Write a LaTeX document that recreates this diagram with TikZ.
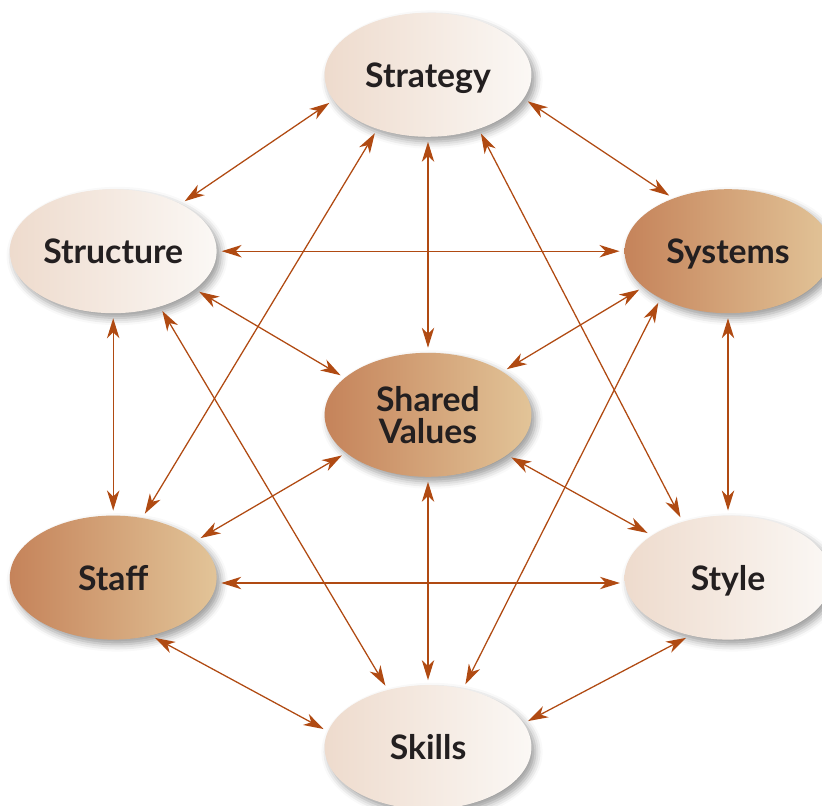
\documentclass[tikz,border=0pt]{standalone}
\usepackage{fontspec}
\setmainfont{Lato}
\usetikzlibrary{arrows.meta, positioning, shapes.geometric, shadows.blur}
\definecolor{rust}{RGB}{176,74,18}
\definecolor{sandL}{RGB}{238,219,205}
\definecolor{sandR}{RGB}{251,248,245}
\definecolor{tanL}{RGB}{197,131,90}
\definecolor{tanR}{RGB}{226,196,152}
\definecolor{ink}{RGB}{35,31,32}

\begin{document}
\begin{tikzpicture}[
        oval/.style={ellipse, minimum width=5.17cm, minimum height=3.1cm, inner sep=0pt,
                     align=center, text=ink, text depth=0pt, font=\fontsize{24}{22.5}\selectfont\bfseries,
                     blur shadow={shadow xshift=0.1cm, shadow yshift=-0.12cm,
                                  shadow blur radius=0.18cm, shadow opacity=40}},
        light/.style={oval, left color=sandL, right color=sandR},
        dark/.style={oval, left color=tanL, right color=tanR},
        link/.style={{Stealth[length=5mm, width=3.1mm, inset=1.5mm]}-{Stealth[length=5mm, width=3.1mm, inset=1.5mm]},
                     draw=rust, line width=0.9pt, shorten <=0.12cm, shorten >=0.12cm}
      ]
      \useasboundingbox (0,0) rectangle (20.55,20.15);
      \node[light] (strategy) at (10.7,18.28) {Strategy};
      \node[light] (structure) at (2.83,13.87) {Structure};
      \node[dark] (systems) at (18.2,13.87) {Systems};
      \node[dark] (shared) at (10.7,9.78) {Shared\\ Values};
      \node[dark] (staff) at (2.83,5.71) {Staff};
      \node[light] (style) at (18.2,5.71) {Style};
      \node[light] (skills) at (10.7,1.47) {Skills};
      % from the top
      \draw[link] (strategy.195) -- (structure.35);
      \draw[link] (strategy.346) -- (systems.136);
      \draw[link] (strategy.south) -- (shared.north);
      \draw[link] (strategy.227) -- (staff.64);
      \draw[link] (strategy.313) -- (style.129);
      % upper row
      \draw[link] (structure.east) -- (systems.west);
      \draw[link] (structure.335) -- (shared.156);
      \draw[link] (structure.south) -- (staff.north);
      \draw[link] (structure.310) -- (skills.125);
      \draw[link] (systems.203) -- (shared.30);
      \draw[link] (systems.south) -- (style.north);
      \draw[link] (systems.215) -- (skills.59);
      % centre and lower row
      \draw[link] (shared.205) -- (staff.24);
      \draw[link] (shared.333) -- (style.151);
      \draw[link] (shared.south) -- (skills.north);
      \draw[link] (staff.-3) -- (style.183);
      \draw[link] (staff.303) -- (skills.171);
      \draw[link] (style.237) -- (skills.14);
    \end{tikzpicture}
\end{document}
